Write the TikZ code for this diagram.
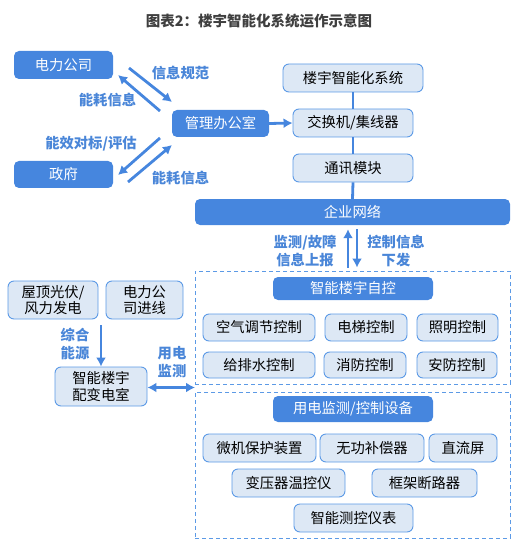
\documentclass[tikz,border=0pt]{standalone}
\usepackage{fontspec}
\setmainfont{Noto Sans CJK SC}
\usetikzlibrary{arrows.meta,calc,positioning}
\definecolor{boxblue}{HTML}{4686DE}
\definecolor{boxlight}{HTML}{DDE8F5}
\definecolor{edgeblue}{HTML}{5C9AE6}
\definecolor{labelblue}{HTML}{4A86D8}
\definecolor{titlegray}{HTML}{3F3F3F}

\begin{document}
\begin{tikzpicture}[
  x=1pt, y=-1pt,
  font=\fontsize{14.3}{16.5}\selectfont,
  solid/.style={fill=boxblue, text=white, rounded corners=5pt, inner sep=0pt},
  light/.style={draw=edgeblue, line width=0.9pt, fill=boxlight, text=black, rounded corners=6pt, inner sep=0pt, align=center},
  frame/.style={draw=edgeblue, line width=0.9pt, dash pattern=on 4pt off 3pt, inner sep=0pt},
  lbl/.style={text=labelblue, font=\fontsize{14.3}{17.5}\selectfont\bfseries, align=center},
  arrow/.style={-{Latex[length=9pt,width=10pt]}, line width=2.8pt, draw=boxblue},
  twoway/.style={{Latex[length=9pt,width=10pt]}-{Latex[length=9pt,width=10pt]}, line width=2.8pt, draw=boxblue},
  link/.style={line width=2.8pt, draw=boxblue}
]
\useasboundingbox (0,0) rectangle (518,553);
\node[font=\fontsize{14.5}{16}\selectfont\bfseries, text=titlegray] (title) at (259,21) {图表2：楼宇智能化系统运作示意图};

% top left: outside parties
\node[solid, minimum width=99pt, minimum height=28pt] (power) at (63.5,65) {电力公司};
\node[solid, minimum width=99pt, minimum height=27pt] (gov) at (63.5,174.5) {政府};
\node[solid, minimum width=97pt, minimum height=27pt] (office) at (220.5,123.5) {管理办公室};

\coordinate (pa) at (129,68);  \coordinate (pb) at (172,102);
\coordinate (pc) at (160,111); \coordinate (pd) at (118,75);
\coordinate (ga) at (160,138); \coordinate (gb) at (118,175);
\coordinate (gc) at (128,182); \coordinate (gd) at (172,145);
\draw[arrow] (pa) -- (pb);
\draw[arrow] (pc) -- (pd);
\draw[arrow] (ga) -- (gb);
\draw[arrow] (gc) -- (gd);
\node[lbl] (normlbl) at (180.5,73) {信息规范};
\node[lbl] (uselbl) at (107.5,100) {能耗信息};
\node[lbl] (evallbl) at (91,144) {能效对标/评估};
\node[lbl] (uselbltwo) at (180.5,178) {能耗信息};

% building system column
\node[light, minimum width=140pt, minimum height=28pt] (system) at (353,78) {楼宇智能化系统};
\node[light, minimum width=120pt, minimum height=28pt] (switch) at (353,123) {交换机/集线器};
\node[light, minimum width=120pt, minimum height=28pt] (comm) at (353,168) {通讯模块};
\node[solid, minimum width=315pt, minimum height=26pt] (net) at (352.5,212) {企业网络};
\draw[link] (system.south) -- (switch.north);
\draw[link] (switch.south) -- (comm.north);
\draw[link] (comm.south) -- (net.north);
\draw[arrow] (office.east) -- (switch.west);

% automation block
\node[frame, minimum width=315pt, minimum height=113pt] (autoframe) at (352.5,327.5) {};
\node[solid, minimum width=160pt, minimum height=23pt] (auto) at (353,288.5) {智能楼宇自控};
\draw[arrow, line width=2.2pt] ($(autoframe.north)+(-4.5,-3)$) coordinate (upfoot) -- ($(net.south)+(-4.5,4)$) coordinate (uphead);
\draw[arrow, line width=2.2pt] ($(net.south)+(4.5,4)$) coordinate (downfoot) -- ($(autoframe.north)+(4.5,-3)$) coordinate (downhead);
\node[lbl] (reportlbl) at (305,251) {监测/故障\\信息上报};
\node[lbl] (controllbl) at (396,251) {控制信息\\下发};

\node[light, minimum width=112pt, minimum height=27pt] (air) at (259,327.5) {空气调节控制};
\node[light, minimum width=82pt, minimum height=27pt] (lift) at (366,327.5) {电梯控制};
\node[light, minimum width=81pt, minimum height=27pt] (lamp) at (457.5,327.5) {照明控制};
\node[light, minimum width=112pt, minimum height=26pt] (water) at (259,365) {给排水控制};
\node[light, minimum width=82pt, minimum height=26pt] (fire) at (365,365) {消防控制};
\node[light, minimum width=80pt, minimum height=26pt] (guard) at (457,365) {安防控制};

% metering block
\node[frame, minimum width=315pt, minimum height=146pt] (meterframe) at (352.5,465) {};
\node[solid, minimum width=160pt, minimum height=26pt] (meterhead) at (353,409) {用电监测/控制设备};
\node[light, minimum width=113pt, minimum height=28pt] (relay) at (259.5,448) {微机保护装置};
\node[light, minimum width=104pt, minimum height=28pt] (var) at (372,448) {无功补偿器};
\node[light, minimum width=68pt, minimum height=28pt] (dcpanel) at (463,448) {直流屏};
\node[light, minimum width=113pt, minimum height=28pt] (tempctl) at (288.5,483) {变压器温控仪};
\node[light, minimum width=105pt, minimum height=28pt] (breaker) at (424.5,483) {框架断路器};
\node[light, minimum width=119pt, minimum height=28pt] (meter) at (353.5,518) {智能测控仪表};

% power supply side
\node[light, minimum width=90pt, minimum height=38pt] (pv) at (53,300) {屋顶光伏/\\风力发电};
\node[light, minimum width=77pt, minimum height=38pt] (grid) at (144.5,300) {电力公\\司进线};
\node[light, minimum width=92pt, minimum height=39pt] (room) at (101,386.5) {智能楼宇\\配变电室};
\coordinate (feed) at (101,325);
\coordinate (gap) at (195,387.5);
\draw[arrow] (feed) -- (room.north);
\draw[twoway] (room.east |- gap) -- (gap);
\node[lbl] (energylbl) at (75,344) {综合\\能源};
\node[lbl] (meteringlbl) at (172,362) {用电\\监测};
\end{tikzpicture}
\end{document}
